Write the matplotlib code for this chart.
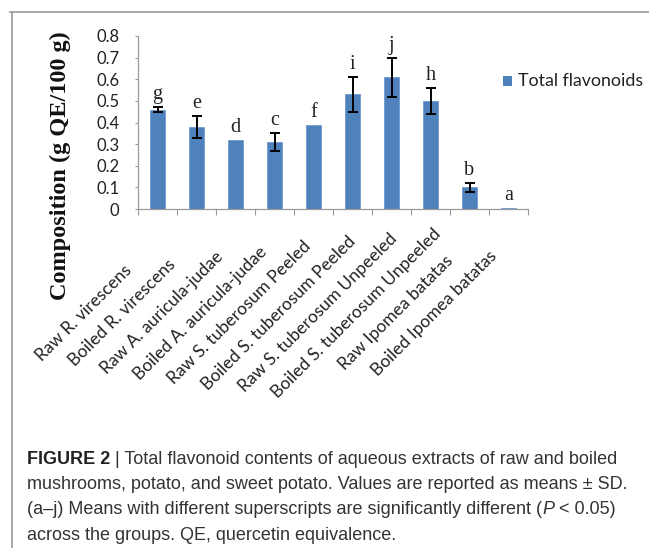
import matplotlib
matplotlib.use("Agg")
import matplotlib.pyplot as plt
import matplotlib.transforms as mtransforms
from matplotlib.lines import Line2D
import numpy as np

categories = ["Raw R. virescens", "Boiled R. virescens", "Raw A. auricula-judae",
              "Boiled A. auricula-judae", "Raw S. tuberosum Peeled",
              "Boiled S. tuberosum Peeled", "Raw S. tuberosum Unpeeled",
              "Boiled S. tuberosum Unpeeled", "Raw Ipomea batatas", "Boiled Ipomea batatas"]
values = [0.46, 0.38, 0.32, 0.31, 0.39, 0.53, 0.61, 0.50, 0.10, 0.005]
errors = [0.01, 0.05, 0.0, 0.04, 0.0, 0.08, 0.09, 0.06, 0.02, 0.0]
letters = ["g", "e", "d", "c", "f", "i", "j", "h", "b", "a"]
yticks = [0, 0.1, 0.2, 0.3, 0.4, 0.5, 0.6, 0.7, 0.8]
ytick_labels = ["0", "0.1", "0.2", "0.3", "0.4", "0.5", "0.6", "0.7", "0.8"]
series_name = "Total flavonoids"

W, H = 649, 548
fig = plt.figure(figsize=(W / 100, H / 100), dpi=100)
fig.patch.set_facecolor("white")

sans = ["Lato", "DejaVu Sans"]
serif = ["Liberation Serif", "DejaVu Serif"]

ax = fig.add_axes([138 / W, 1 - 209 / H, (528 - 138) / W, (209 - 36) / H])
x = np.arange(len(categories))
bar_color = "#4F81BD"
ax.bar(x, values, width=0.41, color=bar_color, edgecolor="#6F9BD0", linewidth=0.6,
       zorder=2, label=series_name)
for xi, v, e in zip(x, values, errors):
    if e > 0:
        ax.errorbar(xi, v, yerr=e, fmt="none", ecolor="black", elinewidth=1.4,
                    capsize=3.3, capthick=1.4, zorder=3)

ax.set_xlim(-0.5, len(categories) - 0.5)
ax.set_ylim(0, 0.8)
ax.set_yticks(yticks)
ax.set_yticklabels(ytick_labels, fontsize=12, family=sans, color="#222222")
ax.tick_params(axis="y", length=2.5, width=0.8, color="#999999", pad=11)
ax.set_xticks(np.arange(len(categories) + 1) - 0.5)
ax.set_xticklabels([])
ax.tick_params(axis="x", length=4, width=0.8, color="#999999", direction="out")
for s in ["top", "right"]:
    ax.spines[s].set_visible(False)
for s in ["left", "bottom"]:
    ax.spines[s].set_color("#999999")
    ax.spines[s].set_linewidth(0.9)

# category labels (rotated, centred on their midpoint)
for xi, lab in zip(x, categories):
    tr = ax.get_xaxis_transform() + mtransforms.ScaledTranslation(-74 / 100, -104 / 100, fig.dpi_scale_trans)
    ax.text(xi, 0, lab, transform=tr, rotation=45, rotation_mode="anchor",
            ha="center", va="center", fontsize=12.5, family=sans, color="#222222")

# significance letters
for xi, v, e, L in zip(x, values, errors, letters):
    tr = ax.transData + mtransforms.ScaledTranslation(0, 8 / 100, fig.dpi_scale_trans)
    ax.text(xi, v + e, L, transform=tr, ha="center", va="baseline",
            fontsize=14.5, family=serif, color="#222222")

fig.text(60 / W, 1 - 166 / H, "Composition (g QE/100 g)", rotation=90, ha="center", va="center",
         fontsize=17.5, fontweight="bold", family=serif, color="#111111")

# legend
fig.patches.append(plt.Rectangle((503 / W, 1 - 86 / H), 9 / W, 10 / H, transform=fig.transFigure,
                                 facecolor=bar_color, edgecolor="none"))
fig.text(518 / W, 1 - 81 / H, series_name, ha="left", va="center", fontsize=12.8,
         family=sans, color="#222222")

# border
fig.add_artist(Line2D([10 / W, 1], [1 - 12 / H, 1 - 12 / H], transform=fig.transFigure,
                      color="#9a9a9a", linewidth=1.2))
fig.add_artist(Line2D([12 / W, 12 / W], [0, 1 - 12 / H], transform=fig.transFigure,
                      color="#9a9a9a", linewidth=1.2))

# caption
cap_font = ["Liberation Sans", "DejaVu Sans"]
cap_size = 13
cap_color = "#333333"
fig.canvas.draw()
renderer = fig.canvas.get_renderer()


def draw_pieces(y_px, pieces):
    xpos = 27
    for txt, kw in pieces:
        t = fig.text(xpos / W, 1 - y_px / H, txt, ha="left", va="center", fontsize=cap_size,
                     family=cap_font, color=kw.get("color", cap_color),
                     fontweight=kw.get("weight", "normal"), fontstyle=kw.get("style", "normal"))
        bb = t.get_window_extent(renderer=renderer)
        xpos += bb.width


draw_pieces(459, [("FIGURE 2", {"weight": "bold", "color": "#222222"}),
                  (" | Total flavonoid contents of aqueous extracts of raw and boiled", {})])
draw_pieces(484.5, [("mushrooms, potato, and sweet potato. Values are reported as means ± SD.", {})])
draw_pieces(510, [("(a–j) Means with different superscripts are significantly different (", {}),
                  ("P", {"style": "italic"}), (" < 0.05)", {})])
draw_pieces(535.5, [("across the groups. QE, quercetin equivalence.", {})])

fig.savefig("out.png", dpi=100)
